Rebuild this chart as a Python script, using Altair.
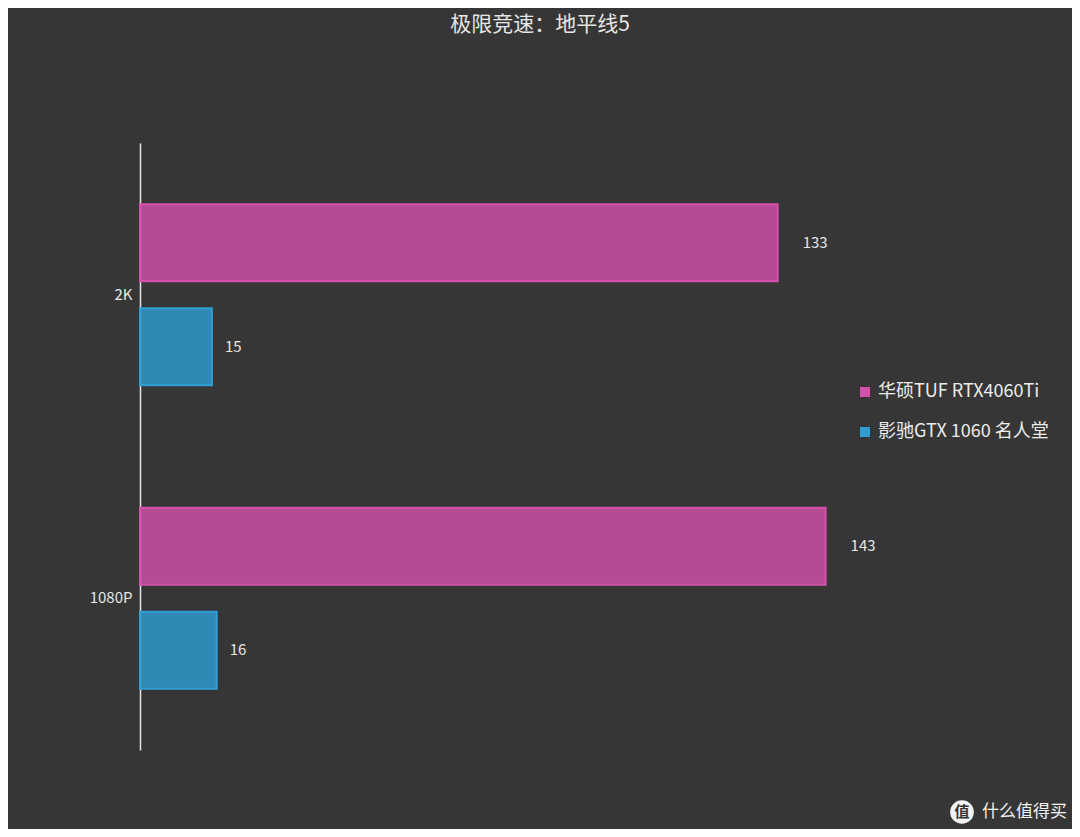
import altair as alt
import pandas as pd

categories = ["2K", "1080P"]
series = ["华硕TUF RTX4060Ti", "影驰GTX 1060 名人堂"]
rtx_values = [133, 143]
gtx_values = [15, 16]
colors = ["#d651ad", "#2f9fd6"]

rows = []
for c, v in zip(categories, rtx_values):
    rows.append({"cat": c, "series": series[0], "value": v})
for c, v in zip(categories, gtx_values):
    rows.append({"cat": c, "series": series[1], "value": v})
df = pd.DataFrame(rows)

FONT = "Noto Sans CJK SC"

y_enc = alt.Y("cat:N", sort=categories, title=None,
              scale=alt.Scale(paddingInner=0, paddingOuter=0),
              axis=alt.Axis(domainColor="#e6e6e6", domainWidth=1.5, ticks=False,
                            labelColor="#e6e6e6", labelFontSize=15, labelFont=FONT,
                            labelPadding=8, grid=False))
yoff = alt.YOffset("series:N", sort=series,
                   scale=alt.Scale(paddingInner=0.26, paddingOuter=0.59))
x_enc = alt.X("value:Q", title=None, scale=alt.Scale(domain=[0, 146], nice=False), axis=None)
color_enc = alt.Color("series:N", sort=series, title=None,
                      scale=alt.Scale(domain=series, range=colors),
                      legend=alt.Legend(orient="none", legendX=716, legendY=240,
                                        labelColor="#ececec", labelFontSize=18,
                                        labelFont=FONT, symbolType="square",
                                        symbolSize=100, rowPadding=22,
                                        labelLimit=400, symbolStrokeWidth=0))

base = alt.Chart(df)

bars = base.mark_bar(fillOpacity=0.8, strokeWidth=2).encode(
    x=x_enc, y=y_enc, yOffset=yoff, color=color_enc,
    stroke=alt.Color("series:N", sort=series, scale=alt.Scale(domain=series, range=colors), legend=None),
)

lab_rtx = base.transform_filter(alt.datum.series == series[0]).mark_text(
    align="left", baseline="middle", dx=25, fontSize=15, font=FONT, color="#e6e6e6"
).encode(x="value:Q", y=alt.Y("cat:N", sort=categories), yOffset=yoff, text="value:Q")

lab_gtx = base.transform_filter(alt.datum.series == series[1]).mark_text(
    align="left", baseline="middle", dx=13, fontSize=15, font=FONT, color="#e6e6e6"
).encode(x="value:Q", y=alt.Y("cat:N", sort=categories), yOffset=yoff, text="value:Q")

wm_df = pd.DataFrame({"t": ["什么值得买"]})
wm_circle = alt.Chart(wm_df).mark_point(shape="circle", filled=True, color="#f2f2f2",
                                        size=560, opacity=1).encode(
    x=alt.value(822), y=alt.value(669))
wm_glyph = alt.Chart(wm_df).mark_text(text="值", fontSize=15, font=FONT, color="#333333",
                                      fontWeight="bold").encode(
    x=alt.value(822), y=alt.value(669))
wm_text = alt.Chart(wm_df).mark_text(align="left", baseline="middle", fontSize=17,
                                     font=FONT, color="#f2f2f2").encode(
    x=alt.value(842), y=alt.value(669), text="t:N")

chart = alt.layer(bars, lab_rtx, lab_gtx, wm_circle, wm_glyph, wm_text).resolve_scale(
    color="shared"
).properties(
    width=700, height=607,
    title=alt.TitleParams(text="极限竞速：地平线5", anchor="middle", dx=50, offset=108,
                          fontSize=21, font=FONT, color="#e6e6e6", fontWeight="normal"),
    autosize=alt.AutoSizeParams(type="none"),
    padding={"left": 132, "top": 135, "right": 232, "bottom": 79},
    background="#363636",
).configure_view(stroke=None)

chart.save("out.html", embed_options={"renderer": "svg", "actions": False})
